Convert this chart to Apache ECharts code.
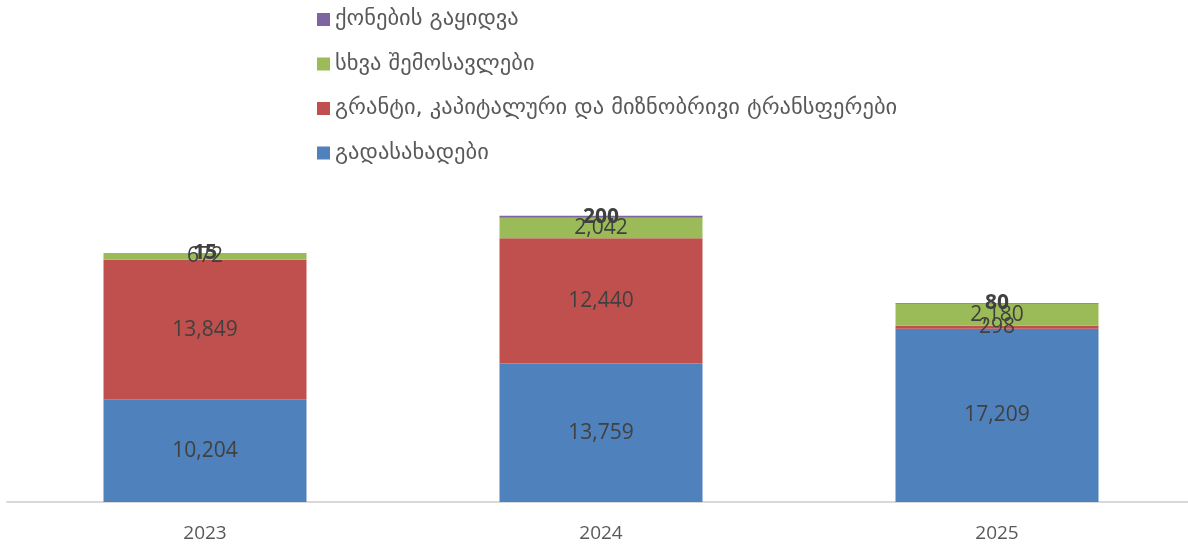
<!DOCTYPE html>
<html lang="ka">
<head>
    <meta charset="UTF-8">
    <title>შემოსავლები</title>
    <script src="https://cdn.jsdelivr.net/npm/echarts@6/dist/echarts.min.js"></script>
    <style>
        html, body { margin: 0; padding: 0; background: #fff; }
        #chart { width: 1188px; height: 548px; }
    </style>
</head>
<body>
<div id="chart"></div>
<script>
    var years = ['2023', '2024', '2025'];
    var taxes = [10204, 13759, 17209];
    var grants = [13849, 12440, 298];
    var otherIncome = [672, 2042, 2180];
    var assetSales = [15, 200, 80];

    var seriesNames = [
        'გადასახადები',
        'გრანტი, კაპიტალური და მიზნობრივი ტრანსფერები',
        'სხვა შემოსავლები',
        'ქონების გაყიდვა'
    ];
    var colors = ['#4f81bd', '#c0504d', '#9bbb59', '#8064a2'];
    var values = [taxes, grants, otherIncome, assetSales];

    var chart = echarts.init(document.getElementById('chart'));

    var series = values.map(function (d, i) {
        return {
            name: seriesNames[i],
            type: 'bar',
            stack: 'total',
            barWidth: 203,
            data: d,
            itemStyle: { color: colors[i] },
            label: {
                show: true,
                position: 'inside',
                color: '#404040',
                fontSize: 21,
                fontWeight: i === 3 ? 'bold' : 'normal',
                fontFamily: 'Open Sans',
                formatter: function (p) {
                    return p.value.toLocaleString('en-US');
                }
            }
        };
    });

    var option = {
        animation: false,
        color: colors,
        legend: {
            orient: 'vertical',
            left: 312,
            top: 3,
            itemWidth: 13,
            itemHeight: 13,
            itemGap: 21.5,
            icon: 'rect',
            data: seriesNames.slice().reverse(),
            textStyle: {
                color: '#595959',
                fontSize: 22.5,
                fontFamily: 'DejaVu Sans'
            }
        },
        grid: {
            left: 7,
            right: -7,
            top: 200,
            bottom: 46,
            outerBoundsMode: 'none'
        },
        xAxis: {
            type: 'category',
            data: years,
            axisLine: { lineStyle: { color: '#d9d9d9', width: 2 } },
            axisTick: { show: false },
            axisLabel: {
                color: '#595959',
                fontSize: 19,
                fontFamily: 'Open Sans',
                margin: 22
            }
        },
        yAxis: {
            type: 'value',
            show: false,
            min: 0,
            max: 30000
        },
        series: series
    };
    chart.setOption(option);
</script>
</body>
</html>
